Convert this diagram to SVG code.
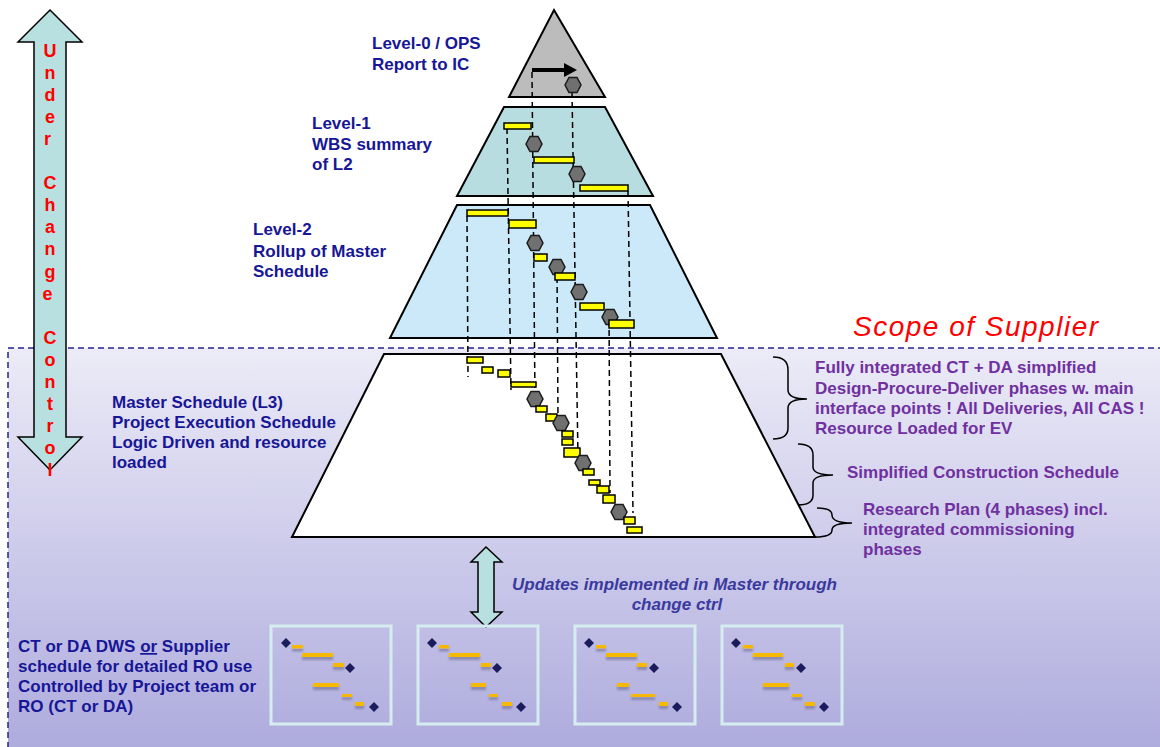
<svg xmlns="http://www.w3.org/2000/svg" width="1160" height="747" viewBox="0 0 1160 747">
<style>
.lvl{font-family:"Liberation Sans",Arial,sans-serif;font-weight:bold;font-size:17px;fill:#161696}
.pur{font-family:"Liberation Sans",Arial,sans-serif;font-weight:bold;font-size:17px;fill:#7030a0}
.upd{font-family:"Liberation Sans",Arial,sans-serif;font-weight:bold;font-style:italic;font-size:17px;fill:#3a3a9e}
.ucc{font-family:"Liberation Sans",Arial,sans-serif;font-weight:bold;font-size:18px;fill:#ff0000}
.scope{font-family:"Liberation Sans",Arial,sans-serif;font-style:italic;font-size:28px;fill:#ff0000;letter-spacing:1.5px}
.shape{stroke:#000;stroke-width:2}
.bar{fill:#ffff00;stroke:#000;stroke-width:1.5}
.dash{stroke:#000;stroke-width:1.5;stroke-dasharray:6 4;fill:none}
.brace{fill:none;stroke:#000;stroke-width:1.5}
.box{fill:none;stroke:#d6edf0;stroke-width:3}
.gb{fill:#f6b900}
.dm{fill:#1c1c5c}
</style>
<defs>
<linearGradient id="bg" x1="0" y1="0" x2="0" y2="1">
<stop offset="0" stop-color="#ecebf7"/>
<stop offset="1" stop-color="#aba8dc"/>
</linearGradient>
<polygon id="hex" points="-8,0 -4,-7.5 4,-7.5 8,0 4,7.5 -4,7.5" fill="#707070" stroke="#1a1a1a" stroke-width="1.5"/>
<polygon id="dia" points="0,-5 5,0 0,5 -5,0"/>
<filter id="sh" x="-20%" y="-50%" width="140%" height="300%">
<feDropShadow dx="0" dy="3" stdDeviation="1" flood-color="#6a6a90" flood-opacity="0.6"/>
</filter>
</defs>

<g id="scope">
<rect x="8" y="348" width="1170" height="420" fill="url(#bg)" stroke="#25258a" stroke-width="1.5" stroke-dasharray="6 4"/>
<text class="scope" x="853" y="336">Scope of Supplier</text>
</g>

<g id="level0">
<polygon class="shape" points="554,10 605,97 509,97" fill="#bcbcbc"/>
<text class="lvl" x="372" y="49">Level-0 / OPS</text>
<text class="lvl" x="372" y="70">Report to IC</text>
</g>

<g id="level1">
<polygon class="shape" points="504,107 605,107 653,196 457,196" fill="#b8dde0"/>
<text class="lvl" x="312" y="129">Level-1</text>
<text class="lvl" x="312" y="150">WBS summary</text>
<text class="lvl" x="312" y="170">of L2</text>
</g>

<g id="level2">
<polygon class="shape" points="457,205 650,205 717,338 390,338" fill="#cbe9f8"/>
<text class="lvl" x="253" y="235">Level-2</text>
<text class="lvl" x="253" y="257">Rollup of Master</text>
<text class="lvl" x="253" y="277">Schedule</text>
</g>

<g id="master">
<polygon class="shape" points="384,354 721,354 815,537 292,537" fill="#ffffff"/>
<text class="lvl" x="112" y="408">Master Schedule (L3)</text>
<text class="lvl" x="112" y="428">Project Execution Schedule</text>
<text class="lvl" x="112" y="448">Logic Driven and resource</text>
<text class="lvl" x="112" y="468">loaded</text>
</g>

<g id="connectors">
<polyline class="dash" points="507,128 511,390"/>
<polyline class="dash" points="532,72 535,399"/>
<polyline class="dash" points="572,92 578,457"/>
<polyline class="dash" points="557,267 558,420"/>
<polyline class="dash" points="628,191 633,513"/>
<polyline class="dash" points="609,310 610,493"/>
<polyline class="dash" points="467,216 468,377"/>
</g>

<g id="gantt-l0">
<line x1="532" y1="70" x2="566" y2="70" stroke="#000" stroke-width="4"/>
<polygon points="564,63 577,70 564,77" fill="#000"/>
<use href="#hex" x="573" y="85"/>
</g>

<g id="gantt-l1">
<rect class="bar" x="504" y="123" width="27" height="6"/>
<use href="#hex" x="534" y="144"/>
<rect class="bar" x="534" y="157" width="40" height="6"/>
<use href="#hex" x="577" y="174"/>
<rect class="bar" x="580" y="185" width="48" height="6"/>
</g>

<g id="gantt-l2">
<rect class="bar" x="467" y="210" width="41" height="6"/>
<rect class="bar" x="509" y="220" width="27" height="8"/>
<use href="#hex" x="535" y="243"/>
<rect class="bar" x="534" y="254" width="13" height="7"/>
<use href="#hex" x="557" y="267"/>
<rect class="bar" x="555" y="273" width="20" height="7"/>
<use href="#hex" x="579" y="292"/>
<rect class="bar" x="580" y="303" width="24" height="7"/>
<use href="#hex" x="610" y="317"/>
<rect class="bar" x="609" y="320" width="25" height="8"/>
</g>

<g id="gantt-l3">
<rect class="bar" x="467" y="357" width="16" height="6"/>
<rect class="bar" x="482" y="367" width="11" height="6"/>
<rect class="bar" x="498" y="370" width="12" height="7"/>
<rect class="bar" x="511" y="382" width="25" height="5"/>
<use href="#hex" x="535" y="399"/>
<rect class="bar" x="536" y="406" width="11" height="6"/>
<rect class="bar" x="546" y="414" width="11" height="7"/>
<use href="#hex" x="561" y="423"/>
<rect class="bar" x="562" y="431" width="11" height="6"/>
<rect class="bar" x="562" y="439" width="11" height="6"/>
<rect class="bar" x="564" y="448" width="16" height="9"/>
<use href="#hex" x="583" y="463"/>
<rect class="bar" x="583" y="469" width="11" height="6"/>
<rect class="bar" x="589" y="480" width="11" height="5"/>
<rect class="bar" x="597" y="486" width="12" height="7"/>
<rect class="bar" x="603" y="495" width="12" height="8"/>
<use href="#hex" x="619" y="512"/>
<rect class="bar" x="624" y="517" width="11" height="7"/>
<rect class="bar" x="627" y="527" width="15" height="6"/>
</g>

<g id="braces">
<path class="brace" d="M773,357 Q788,357 788,370 L788,390 Q788,399 807,399 Q788,399 788,408 L788,428 Q788,439 773,439"/>
<path class="brace" d="M798,444 Q813,444 813,455 L813,467 Q813,475 833,475 Q813,475 813,483 L813,495 Q813,505 798,505"/>
<path class="brace" d="M817,508 Q832,508 832,515 Q832,523 852,523 Q832,523 832,530 Q832,537 815,537"/>
</g>

<g id="label-right">
<text class="pur" x="815" y="373">Fully integrated CT + DA simplified</text>
<text class="pur" x="815" y="394">Design-Procure-Deliver phases w. main</text>
<text class="pur" x="815" y="414">interface points ! All Deliveries, All CAS !</text>
<text class="pur" x="815" y="434">Resource Loaded for EV</text>
<text class="pur" x="847" y="478">Simplified Construction Schedule</text>
<text class="pur" x="863" y="515">Research Plan (4 phases) incl.</text>
<text class="pur" x="863" y="535">integrated commissioning</text>
<text class="pur" x="863" y="555">phases</text>
</g>

<g id="change-arrow">
<polygon points="50,10 82,42 66,42 66,437 82,437 50,470 18,437 34,437 34,42 18,42" fill="#b8e0e0" stroke="#000" stroke-width="1.5"/>
<text class="ucc" text-anchor="middle">
<tspan x="50" y="56.5">U</tspan><tspan x="50" y="78.6">n</tspan><tspan x="50" y="100.7">d</tspan><tspan x="50" y="122.8">e</tspan><tspan x="50" y="144.9">r</tspan>
<tspan x="50" y="189.1">C</tspan><tspan x="50" y="211.2">h</tspan><tspan x="50" y="233.3">a</tspan><tspan x="50" y="255.4">n</tspan><tspan x="50" y="277.5">g</tspan><tspan x="50" y="299.6">e</tspan>
<tspan x="50" y="343.8">C</tspan><tspan x="50" y="365.9">o</tspan><tspan x="50" y="388">n</tspan><tspan x="50" y="410.1">t</tspan><tspan x="50" y="432.2">r</tspan><tspan x="50" y="454.3">o</tspan><tspan x="50" y="476.4">l</tspan>
</text>
</g>

<g id="update-arrow">
<polygon points="486,547 502,562 494,562 494,612 502,612 486,627 471,612 478,612 478,562 471,562" fill="#b8e0e0" stroke="#000" stroke-width="1.5"/>
<text class="upd" x="512" y="590">Updates implemented in Master through</text>
<text class="upd" x="677" y="610" text-anchor="middle">change ctrl</text>
</g>

<g id="label-bottom-left">
<text class="lvl" x="18" y="652">CT or DA DWS <tspan text-decoration="underline">or</tspan> Supplier</text>
<text class="lvl" x="18" y="672">schedule for detailed RO use</text>
<text class="lvl" x="18" y="692">Controlled by Project team or</text>
<text class="lvl" x="18" y="712">RO (CT or DA)</text>
</g>

<g id="box1" transform="translate(271,626)">
<rect class="box" x="0" y="0" width="120" height="98"/>
<g filter="url(#sh)"><rect class="gb" x="21" y="19" width="11" height="3.5"/><rect class="gb" x="31" y="27" width="31" height="4"/><rect class="gb" x="62" y="37" width="11" height="4"/><rect class="gb" x="42" y="57" width="26" height="4"/><rect class="gb" x="71" y="68" width="10" height="3"/><rect class="gb" x="84" y="76" width="9" height="4"/></g>
<use class="dm" href="#dia" x="15" y="17"/><use class="dm" href="#dia" x="79" y="42"/><use class="dm" href="#dia" x="103" y="81"/>
</g>

<g id="box2" transform="translate(418,626)">
<rect class="box" x="0" y="0" width="120" height="98"/>
<g filter="url(#sh)"><rect class="gb" x="21" y="19" width="10" height="3.5"/><rect class="gb" x="31" y="27" width="31" height="4"/><rect class="gb" x="63" y="37" width="10" height="4"/><rect class="gb" x="53" y="57" width="15" height="4"/><rect class="gb" x="71" y="68" width="9" height="3"/><rect class="gb" x="84" y="76" width="10" height="4"/></g>
<use class="dm" href="#dia" x="14" y="17"/><use class="dm" href="#dia" x="79" y="42"/><use class="dm" href="#dia" x="103" y="81"/>
</g>

<g id="box3" transform="translate(575,626)">
<rect class="box" x="0" y="0" width="120" height="98"/>
<g filter="url(#sh)"><rect class="gb" x="21" y="19" width="10" height="3.5"/><rect class="gb" x="31" y="27" width="31" height="4"/><rect class="gb" x="62" y="37" width="10" height="4"/><rect class="gb" x="42" y="57" width="12" height="4"/><rect class="gb" x="56" y="68" width="24" height="3"/><rect class="gb" x="84" y="76" width="9" height="4"/></g>
<use class="dm" href="#dia" x="14" y="17"/><use class="dm" href="#dia" x="79" y="42"/><use class="dm" href="#dia" x="102" y="81"/>
</g>

<g id="box4" transform="translate(722,626)">
<rect class="box" x="0" y="0" width="120" height="98"/>
<g filter="url(#sh)"><rect class="gb" x="21" y="19" width="10" height="3.5"/><rect class="gb" x="31" y="27" width="30" height="4"/><rect class="gb" x="63" y="37" width="9" height="4"/><rect class="gb" x="41" y="57" width="26" height="4"/><rect class="gb" x="70" y="68" width="10" height="3"/><rect class="gb" x="83" y="76" width="10" height="4"/></g>
<use class="dm" href="#dia" x="14" y="17"/><use class="dm" href="#dia" x="79" y="42"/><use class="dm" href="#dia" x="102" y="81"/>
</g>
</svg>
